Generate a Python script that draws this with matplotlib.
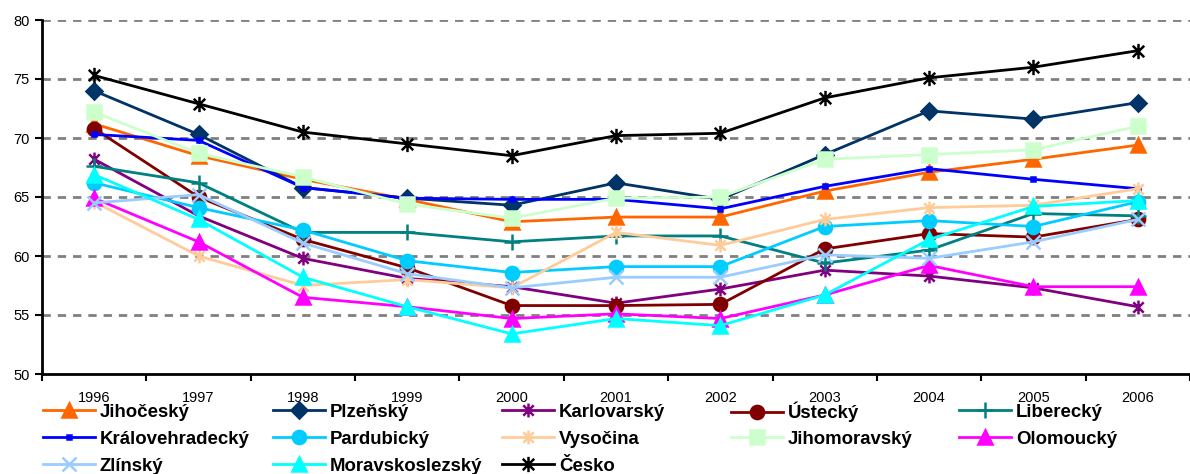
import matplotlib.pyplot as plt
from matplotlib.path import Path

plt.rcParams["font.family"] = ["Liberation Sans", "DejaVu Sans"]

years = ["1996", "1997", "1998", "1999", "2000", "2001", "2002", "2003", "2004", "2005", "2006"]

jihocesky = [71.2, 68.5, 66.5, 64.8, 62.9, 63.3, 63.3, 65.5, 67.1, 68.2, 69.4]
plzensky = [74.0, 70.3, 65.8, 64.9, 64.3, 66.2, 64.8, 68.6, 72.3, 71.6, 73.0]
karlovarsky = [68.2, 63.4, 59.8, 58.1, 57.4, 56.0, 57.2, 58.8, 58.3, 57.3, 55.7]
ustecky = [70.8, 65.0, 61.4, 59.0, 55.8, 55.8, 55.9, 60.6, 61.9, 61.6, 63.1]
liberecky = [67.6, 66.2, 62.0, 62.0, 61.2, 61.7, 61.7, 59.4, 60.5, 63.6, 63.4]
kralovehradecky = [70.3, 69.8, 65.8, 64.9, 64.8, 64.8, 64.0, 65.9, 67.4, 66.5, 65.7]
pardubicky = [66.2, 64.1, 62.2, 59.6, 58.6, 59.1, 59.1, 62.5, 63.0, 62.5, 64.6]
vysocina = [64.6, 60.0, 57.5, 58.0, 57.3, 62.0, 60.9, 63.1, 64.1, 64.3, 65.7]
jihomoravsky = [72.2, 68.7, 66.7, 64.4, 63.2, 64.9, 65.0, 68.2, 68.6, 69.0, 71.0]
olomoucky = [64.9, 61.2, 56.5, 55.7, 54.7, 55.1, 54.7, 56.7, 59.2, 57.4, 57.4]
zlinsky = [64.5, 65.2, 61.1, 58.5, 57.3, 58.2, 58.2, 60.1, 59.8, 61.2, 63.1]
moravskoslezsky = [66.9, 63.1, 58.2, 55.7, 53.4, 54.7, 54.1, 56.7, 61.4, 64.2, 64.7]
cesko = [75.3, 72.9, 70.5, 69.5, 68.5, 70.2, 70.4, 73.4, 75.1, 76.0, 77.4]

star = Path(
    [(0, -1), (0, 1), (-0.75, -0.75), (0.75, 0.75), (-0.75, 0.75), (0.75, -0.75)],
    [Path.MOVETO, Path.LINETO, Path.MOVETO, Path.LINETO, Path.MOVETO, Path.LINETO],
)

# name, values, colour, marker, marker size
series = [
    ("Jihočeský", jihocesky, "#FF6600", "^", 10),
    ("Plzeňský", plzensky, "#003366", "D", 8),
    ("Karlovarský", karlovarsky, "#800080", star, 10),
    ("Ústecký", ustecky, "#800000", "o", 9.5),
    ("Liberecký", liberecky, "#008080", "+", 11),
    ("Královehradecký", kralovehradecky, "#0000FF", "s", 3.5),
    ("Pardubický", pardubicky, "#00CCFF", "o", 9.5),
    ("Vysočina", vysocina, "#FFCC99", star, 10),
    ("Jihomoravský", jihomoravsky, "#CCFFCC", "s", 9.5),
    ("Olomoucký", olomoucky, "#FF00FF", "^", 10),
    ("Zlínský", zlinsky, "#99CCFF", "x", 10),
    ("Moravskoslezský", moravskoslezsky, "#00FFFF", "^", 10),
    ("Česko", cesko, "#000000", star, 11),
]

W, H = 1190, 474
fig = plt.figure(figsize=(W / 100, H / 100), dpi=100)
ax = fig.add_axes([42 / W, 1 - 374 / H, 1 - 42 / W, (374 - 20) / H])

x = list(range(len(years)))
handles = {}
for name, vals, col, mk, ms in series:
    (ln,) = ax.plot(
        x, vals, color=col, lw=2, marker=mk, markersize=ms,
        markerfacecolor=col, markeredgecolor=col, markeredgewidth=1.8,
        label=name, clip_on=False,
    )
    handles[name] = ln

ax.set_ylim(50, 80)
ax.set_xlim(-0.5, -0.5 + (W - 42) / 105.3)
ax.set_yticks(range(50, 81, 5))
for v in range(55, 81, 5):
    ax.axhline(v, color="#808080", lw=2, ls=(0, (3, 2.5)), zorder=0)

ax.set_xticks(x)
ax.set_xticklabels(years)
ax.set_xticks([i - 0.5 for i in range(len(years) + 1)], minor=True)
ax.tick_params(axis="x", which="major", length=0, pad=12, labelsize=10.5)
ax.tick_params(axis="x", which="minor", length=5, width=1.5, direction="out")
ax.tick_params(axis="y", length=5, width=1.5, pad=4, labelsize=10.5)

for s in ("top", "right"):
    ax.spines[s].set_visible(False)
for s in ("left", "bottom"):
    ax.spines[s].set_linewidth(2)

# legend on a fixed grid, filled row by row like the original
legend_rows = [
    ["Jihočeský", "Plzeňský", "Karlovarský", "Ústecký", "Liberecký"],
    ["Královehradecký", "Pardubický", "Vysočina", "Jihomoravský", "Olomoucký"],
    ["Zlínský", "Moravskoslezský", "Česko"],
]
col_x = [43, 273, 502, 731, 959]
row_y = [412, 439, 466]
for names, ry in zip(legend_rows, row_y):
    for n, cx in zip(names, col_x):
        fig.legend(
            [handles[n]], [n],
            loc="center left", bbox_to_anchor=(cx / W, 1 - ry / H),
            frameon=False, borderpad=0, borderaxespad=0, numpoints=1,
            handlelength=2.8, handletextpad=0.25,
            prop={"size": 13.4, "weight": "bold"},
        )

fig.savefig("out.png", dpi=100)
